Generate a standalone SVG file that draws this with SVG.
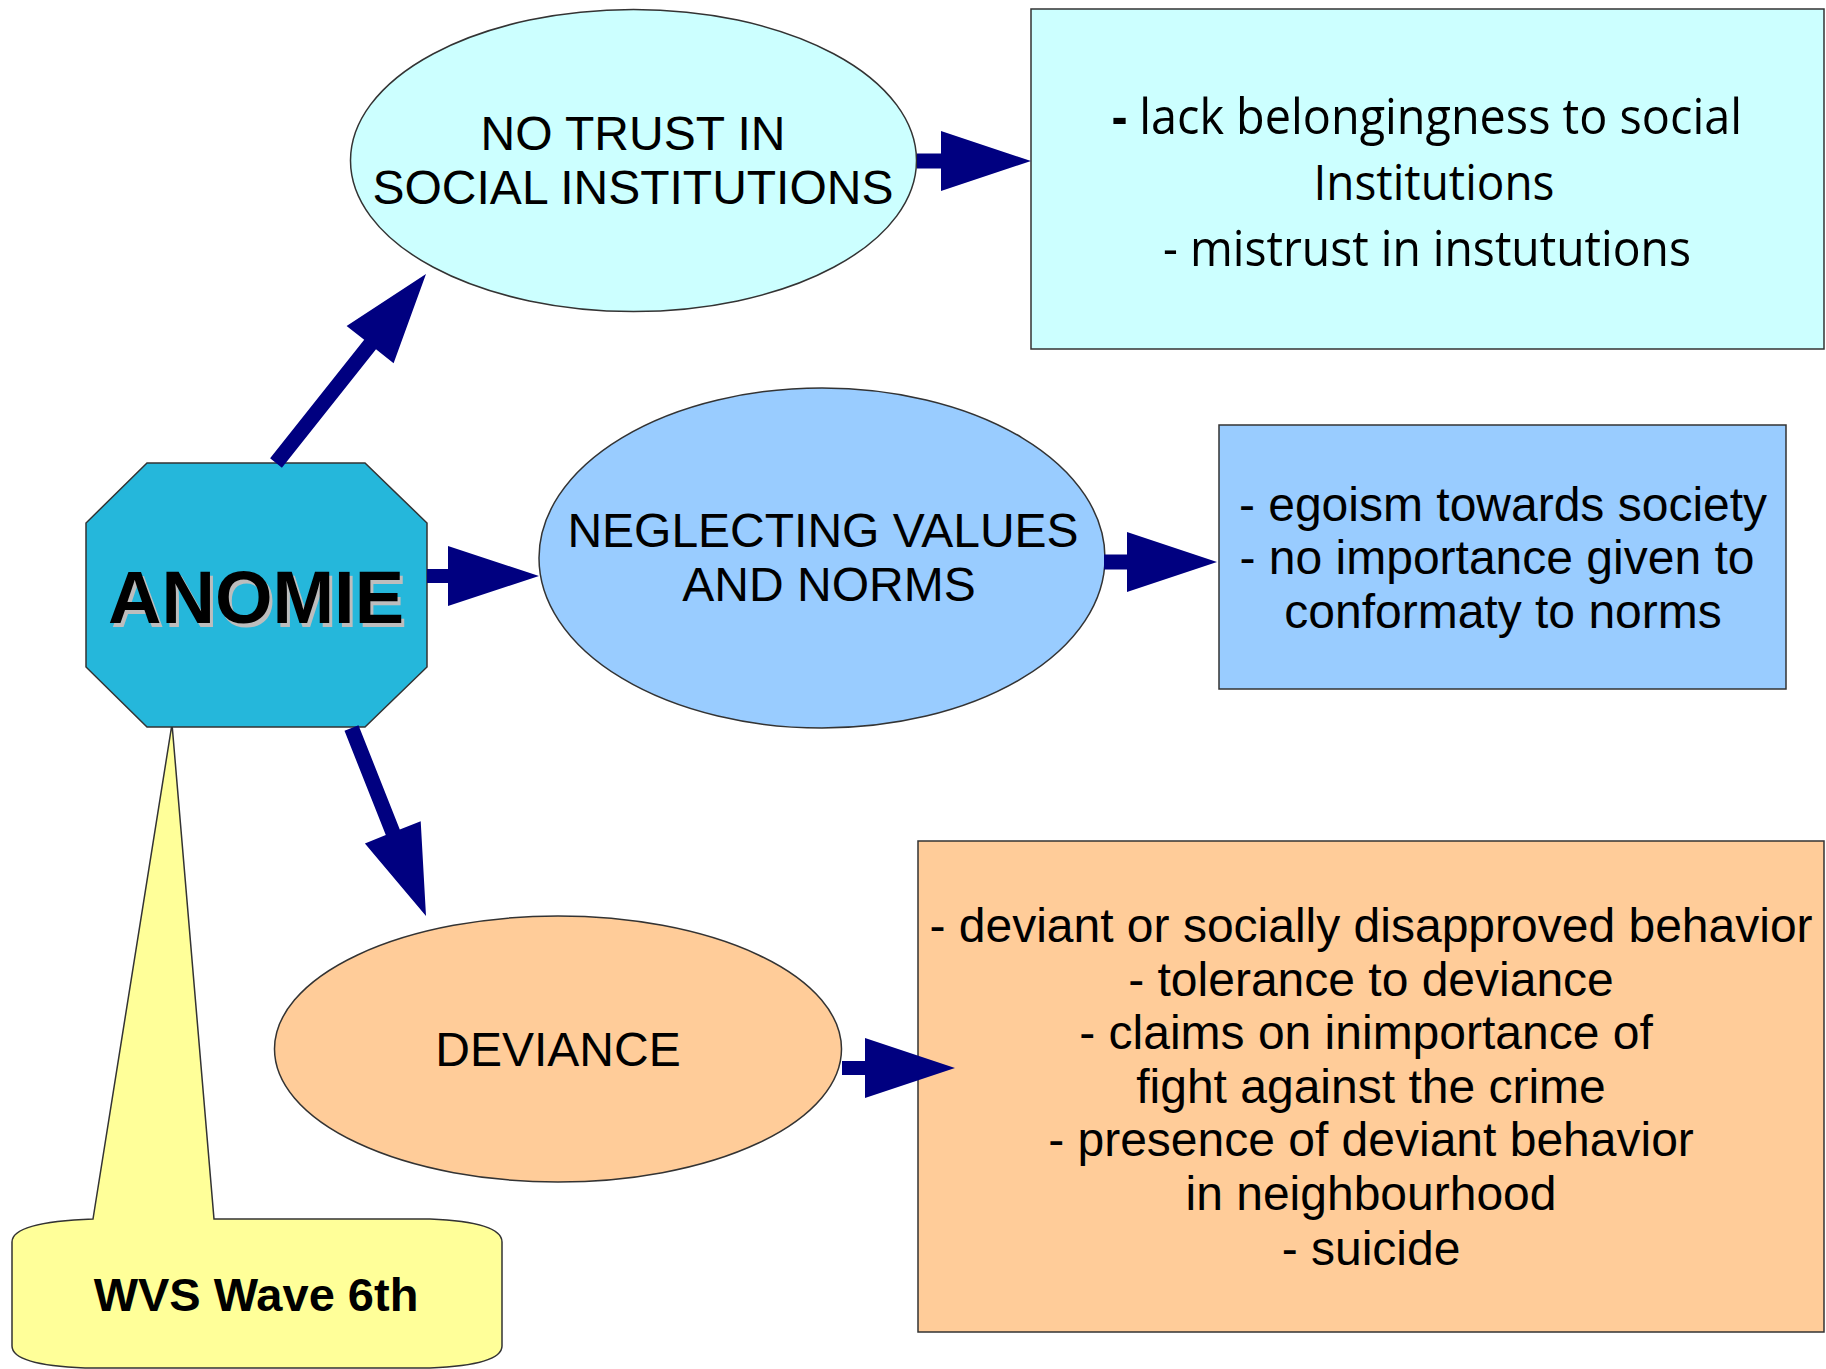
<svg xmlns="http://www.w3.org/2000/svg" width="1826" height="1369" viewBox="0 0 1826 1369">
<style>
.sh{stroke:#333333;stroke-width:1.5}
.t{font-family:"Liberation Sans",Arial,sans-serif;font-size:48px;fill:#000;text-anchor:middle}
.c{font-family:"Open Sans","Liberation Sans",sans-serif;font-size:50px;fill:#000;text-anchor:middle}
.arr{fill:#000080;stroke:none}
</style>
<rect width="1826" height="1369" fill="#ffffff"/>
<g id="wvs">
<path class="sh" fill="#FFFF99" d="M93,1219 L172,724 L214,1219 L430,1219 Q502,1222 502,1242 L502,1346 Q502,1365 430,1368 L85,1368 Q12,1365 12,1346 L12,1242 Q12,1222 93,1219 Z"/>
<text x="256" y="1311" style="font-family:'Liberation Sans',Arial,sans-serif;font-size:47px;font-weight:bold;text-anchor:middle">WVS Wave 6th</text>
</g>
<g id="anomie">
<polygon class="sh" fill="#25B7DB" points="147,463 365,463 427,523 427,667 365,727 147,727 86,667 86,523"/>
<text x="259" y="626.5" style="font-family:'Liberation Sans',Arial,sans-serif;font-size:74px;font-weight:bold;text-anchor:middle;fill:#bdbdbd">ANOMIE</text>
<text x="256" y="623" style="font-family:'Liberation Sans',Arial,sans-serif;font-size:74px;font-weight:bold;text-anchor:middle;fill:#000">ANOMIE</text>
</g>
<g id="trust">
<ellipse class="sh" fill="#CCFFFF" cx="633.5" cy="160.5" rx="283" ry="151"/>
<text class="t" x="633" y="150">NO TRUST IN</text>
<text class="t" x="633" y="204">SOCIAL INSTITUTIONS</text>
</g>
<g id="trust-box">
<rect class="sh" fill="#CCFFFF" x="1031" y="9" width="793" height="340"/>
<text class="c" x="1427" y="134" textLength="630" lengthAdjust="spacingAndGlyphs"><tspan font-weight="bold">-</tspan> lack belongingness to social</text>
<text class="c" x="1434" y="200" textLength="241" lengthAdjust="spacingAndGlyphs">Institutions</text>
<text class="c" x="1427" y="266" textLength="528" lengthAdjust="spacingAndGlyphs">- mistrust in instututions</text>
</g>
<g id="values">
<ellipse class="sh" fill="#99CCFF" cx="822" cy="558" rx="283" ry="170"/>
<text class="t" x="823" y="547">NEGLECTING VALUES</text>
<text class="t" x="829" y="601">AND NORMS</text>
</g>
<g id="values-box">
<rect class="sh" fill="#99CCFF" x="1219" y="425" width="567" height="264"/>
<text class="t" x="1503" y="521">- egoism towards society</text>
<text class="t" x="1497" y="574">- no importance given to</text>
<text class="t" x="1503" y="628">conformaty to norms</text>
</g>
<g id="deviance">
<ellipse class="sh" fill="#FFCC99" cx="558" cy="1049" rx="283.5" ry="133"/>
<text class="t" x="558" y="1066">DEVIANCE</text>
</g>
<g id="deviance-box">
<rect class="sh" fill="#FFCC99" x="918" y="841" width="906" height="491"/>
<text class="t" x="1371" y="942">- deviant or socially disapproved behavior</text>
<text class="t" x="1371" y="996">- tolerance to deviance</text>
<text class="t" x="1366" y="1049">- claims on inimportance of</text>
<text class="t" x="1371" y="1103">fight against the crime</text>
<text class="t" x="1371" y="1156">- presence of deviant behavior</text>
<text class="t" x="1371" y="1210">in neighbourhood</text>
<text class="t" x="1371" y="1265">- suicide</text>
</g>
<g id="connectors">
<polygon class="arr" points="270.1,458.3 364.2,339.8 346.6,325.9 426,274 393.6,363.2 376,349.2 281.9,467.7"/>
<polygon class="arr" points="427,569 448,569 448,546 539,576 448,606 448,583 427,583"/>
<polygon class="arr" points="344.5,730.8 358.5,725.2 399.8,829.5 420.7,821.2 426,916 364.9,843.4 385.8,835.1"/>
<polygon class="arr" points="917,153.5 941,153.5 941,131 1031,161 941,191 941,168.5 917,168.5"/>
<polygon class="arr" points="1104,554.5 1127,554.5 1127,532 1217,562 1127,592 1127,569.5 1104,569.5"/>
<polygon class="arr" points="842,1061 865,1061 865,1038 955,1068 865,1098 865,1075 842,1075"/>
</g>
</svg>
